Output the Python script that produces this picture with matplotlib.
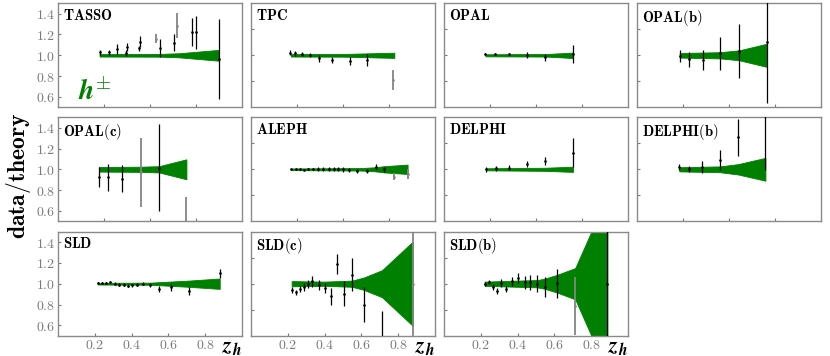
import numpy as np
import matplotlib
matplotlib.use("Agg")
import matplotlib.pyplot as plt

plt.rcParams["mathtext.fontset"] = "cm"
plt.rcParams["font.family"] = ["DejaVu Serif"]

# --- data: z, data/theory, error, band (z, half width) ---
tasso_z = [0.226, 0.275, 0.32, 0.368, 0.375, 0.44, 0.447, 0.534, 0.552, 0.63, 0.648, 0.73, 0.752, 0.873]
tasso_r = [1.029, 1.029, 1.058, 1.02, 1.083, 1.067, 1.131, 1.157, 1.074, 1.122, 1.285, 1.221, 1.221, 0.964]
tasso_e = [0.024, 0.024, 0.05, 0.03, 0.04, 0.025, 0.05, 0.043, 0.087, 0.08, 0.12, 0.136, 0.157, 0.385]
tasso_gray = [7, 10]
tasso_bz = [0.226, 0.55, 0.66, 0.873]
tasso_bw = [0.012, 0.013, 0.02, 0.052]

tpc_z = [0.214, 0.239, 0.275, 0.32, 0.37, 0.442, 0.538, 0.632, 0.773]
tpc_r = [1.026, 1.019, 1.01, 1.003, 0.971, 0.955, 0.945, 0.955, 0.763]
tpc_e = [0.027, 0.023, 0.021, 0.022, 0.032, 0.032, 0.035, 0.056, 0.1]
tpc_gray = [8]
tpc_bz = [0.217, 0.5, 0.779]
tpc_bw = [0.012, 0.013, 0.025]

opal_z = [0.225, 0.275, 0.351, 0.451, 0.55, 0.7]
opal_r = [1.01, 1.016, 1.016, 1.003, 0.98, 1.01]
opal_e = [0.008, 0.008, 0.008, 0.032, 0.037, 0.085]
opal_gray = []
opal_bz = [0.225, 0.55, 0.7]
opal_bw = [0.01, 0.012, 0.026]

opalb_z = [0.232, 0.28, 0.357, 0.453, 0.556, 0.707]
opalb_r = [0.996, 0.964, 0.955, 1.019, 1.042, 1.13]
opalb_e = [0.056, 0.072, 0.096, 0.16, 0.256, 0.59]
opalb_gray = []
opalb_bz = [0.232, 0.453, 0.556, 0.707]
opalb_bw = [0.022, 0.03, 0.048, 0.112]

opalc_z = [0.223, 0.272, 0.35, 0.45, 0.549, 0.698]
opalc_r = [0.923, 0.923, 0.907, 0.97, 1.017, 0.40]
opalc_e = [0.096, 0.128, 0.13, 0.33, 0.417, 0.33]
opalc_gray = [3, 5]
opalc_bz = [0.223, 0.45, 0.549, 0.698]
opalc_bw = [0.022, 0.025, 0.03, 0.096]

aleph_z = [0.217, 0.243, 0.266, 0.288, 0.312, 0.339, 0.366, 0.39, 0.424, 0.451,
           0.475, 0.498, 0.532, 0.578, 0.628, 0.677, 0.724, 0.777, 0.851]
aleph_r = [1.0, 1.0, 1.0, 0.998, 1.0, 1.003, 1.003, 1.0, 1.0, 1.003,
           1.003, 1.0, 0.995, 0.985, 0.985, 1.022, 1.0, 0.93, 0.955]
aleph_e = [0.005, 0.005, 0.007, 0.007, 0.008, 0.012, 0.015, 0.018, 0.02, 0.022,
           0.022, 0.022, 0.02, 0.02, 0.022, 0.025, 0.022, 0.035, 0.045]
aleph_gray = [17, 18]
aleph_bz = [0.217, 0.6, 0.677, 0.724, 0.851]
aleph_bw = [0.008, 0.012, 0.02, 0.03, 0.045]

delphi_z = [0.23, 0.281, 0.352, 0.451, 0.551, 0.701]
delphi_r = [1.0, 1.01, 1.016, 1.048, 1.08, 1.16]
delphi_e = [0.025, 0.022, 0.025, 0.03, 0.035, 0.14]
delphi_gray = []
delphi_bz = [0.23, 0.55, 0.701]
delphi_bw = [0.01, 0.015, 0.025]

delphib_z = [0.23, 0.281, 0.351, 0.451, 0.55, 0.698]
delphib_r = [1.02, 1.0, 1.02, 1.09, 1.308, 1.6]
delphib_e = [0.03, 0.03, 0.06, 0.1, 0.18, 0.607]
delphib_gray = []
delphib_bz = [0.23, 0.451, 0.55, 0.698]
delphib_bw = [0.02, 0.028, 0.05, 0.11]

sld_z = [0.217, 0.241, 0.263, 0.285, 0.308, 0.332, 0.357, 0.38, 0.402, 0.43,
         0.462, 0.502, 0.549, 0.612, 0.712, 0.879]
sld_r = [1.006, 1.006, 1.006, 1.016, 1.0, 0.99, 0.99, 0.98, 0.985, 0.99,
         1.0, 0.99, 0.948, 0.964, 0.932, 1.10]
sld_e = [0.01, 0.01, 0.01, 0.012, 0.012, 0.012, 0.012, 0.014, 0.015, 0.016,
         0.016, 0.018, 0.028, 0.03, 0.04, 0.045]
sld_gray = []
sld_bz = [0.217, 0.5, 0.712, 0.879]
sld_bw = [0.008, 0.01, 0.03, 0.05]

sldc_z = [0.221, 0.242, 0.264, 0.286, 0.31, 0.333, 0.368, 0.4, 0.433, 0.467,
          0.503, 0.549, 0.614, 0.712, 0.879]
sldc_r = [0.936, 0.917, 0.952, 0.968, 1.0, 1.022, 0.99, 0.958, 0.878, 1.19,
          0.904, 1.087, 0.798, 0.45, 1.0]
sldc_e = [0.03, 0.025, 0.03, 0.035, 0.04, 0.05, 0.05, 0.05, 0.08, 0.1,
          0.12, 0.16, 0.17, 0.29, 1.2]
sldc_gray = [14]
sldc_bz = [0.221, 0.4, 0.55, 0.614, 0.712, 0.879]
sldc_bw = [0.025, 0.02, 0.03, 0.06, 0.13, 0.405]

sldb_z = [0.221, 0.243, 0.266, 0.288, 0.308, 0.339, 0.37, 0.402, 0.438, 0.469,
          0.507, 0.55, 0.614, 0.713, 0.888]
sldb_r = [0.997, 1.013, 0.968, 0.933, 1.006, 0.949, 1.022, 1.054, 1.013, 1.013,
          1.0, 0.968, 1.006, 0.782, 1.0]
sldb_e = [0.02, 0.02, 0.025, 0.03, 0.04, 0.03, 0.04, 0.05, 0.06, 0.07,
          0.08, 0.1, 0.14, 0.28, 1.2]
sldb_gray = [13]
sldb_bz = [0.221, 0.4, 0.507, 0.55, 0.614, 0.713, 0.888]
sldb_bw = [0.02, 0.03, 0.035, 0.05, 0.085, 0.15, 0.85]

panels = [
    ("TASSO", tasso_z, tasso_r, tasso_e, tasso_gray, tasso_bz, tasso_bw),
    ("TPC", tpc_z, tpc_r, tpc_e, tpc_gray, tpc_bz, tpc_bw),
    ("OPAL", opal_z, opal_r, opal_e, opal_gray, opal_bz, opal_bw),
    ("OPAL(b)", opalb_z, opalb_r, opalb_e, opalb_gray, opalb_bz, opalb_bw),
    ("OPAL(c)", opalc_z, opalc_r, opalc_e, opalc_gray, opalc_bz, opalc_bw),
    ("ALEPH", aleph_z, aleph_r, aleph_e, aleph_gray, aleph_bz, aleph_bw),
    ("DELPHI", delphi_z, delphi_r, delphi_e, delphi_gray, delphi_bz, delphi_bw),
    ("DELPHI(b)", delphib_z, delphib_r, delphib_e, delphib_gray, delphib_bz, delphib_bw),
    ("SLD", sld_z, sld_r, sld_e, sld_gray, sld_bz, sld_bw),
    ("SLD(c)", sldc_z, sldc_r, sldc_e, sldc_gray, sldc_bz, sldc_bw),
    ("SLD(b)", sldb_z, sldb_r, sldb_e, sldb_gray, sldb_bz, sldb_bw),
]

xticks_lab = [0.2, 0.4, 0.6, 0.8]
yticks_lab = [0.6, 0.8, 1.0, 1.2, 1.4]
xticks_plain = [0.25, 0.5, 0.75]
yticks_plain = [0.75, 1.0, 1.25]

fig = plt.figure(figsize=(8.3, 3.56), dpi=100)

W, H = 830.0, 356.0
lefts = [58, 251, 444, 637]
tops = [3.3, 117.3, 231.7]
aw, ah = 184, 104
frame = "#8a8a8a"
tick_col = "#7a7a7a"

for i, (name, z, r, e, gray, bz, bw) in enumerate(panels):
    row, col = divmod(i, 4)
    ax = fig.add_axes([lefts[col] / W, 1 - (tops[row] + ah) / H, aw / W, ah / H])
    bz = np.array(bz)
    bw = np.array(bw)
    ax.fill_between(bz, 1 - bw, 1 + bw, color="#008000", lw=0.6, ec="#008000", zorder=2)
    z = np.array(z)
    r = np.array(r)
    e = np.array(e)
    for k, (zk, rk, ek) in enumerate(zip(z, r, e)):
        if k in gray:
            ck, lw = "#858585", 1.3
        else:
            ck, lw = "black", 0.9
        ax.errorbar(zk, rk, yerr=ek, fmt="o", ms=0.9, color=ck, ecolor=ck,
                    elinewidth=lw, capsize=0, zorder=3)
    ax.set_xlim(0, 1)
    ax.set_ylim(0.5, 1.5)
    for s in ax.spines.values():
        s.set_color(frame)
        s.set_linewidth(1.0)
    ax.tick_params(direction="in", length=2.5, width=0.8, color=tick_col,
                   labelcolor=tick_col, labelsize=10, pad=2)
    if col == 0:
        ax.set_yticks(yticks_lab)
        ax.set_yticklabels([r"$%.1f$" % v for v in yticks_lab])
    else:
        ax.set_yticks(yticks_plain)
        ax.set_yticklabels([])
    if row == 2:
        ax.set_xticks(xticks_lab)
        ax.set_xticklabels([r"$%.1f$" % v for v in xticks_lab])
    else:
        ax.set_xticks(xticks_plain)
        ax.set_xticklabels([])
    ax.text(0.025, 0.955, r"$\mathbf{%s}$" % name, transform=ax.transAxes,
            ha="left", va="top", fontsize=10.5, color="black")
    if row == 2:
        ax.text(0.945, -0.105, r"$\mathbfit{z}_{\mathbfit{h}}$", transform=ax.transAxes,
                ha="center", va="center", fontsize=16, color="black", clip_on=False)
    if i == 0:
        ax.text(0.11, 0.15, r"$\mathbfit{h}^{\pm}$", transform=ax.transAxes,
                ha="left", va="center", fontsize=20, color="#008000")

fig.text(0.022, 0.505, r"$\mathbf{data/theory}$", rotation=90, ha="center",
         va="center", fontsize=17)

fig.savefig("out.png", dpi=100)
